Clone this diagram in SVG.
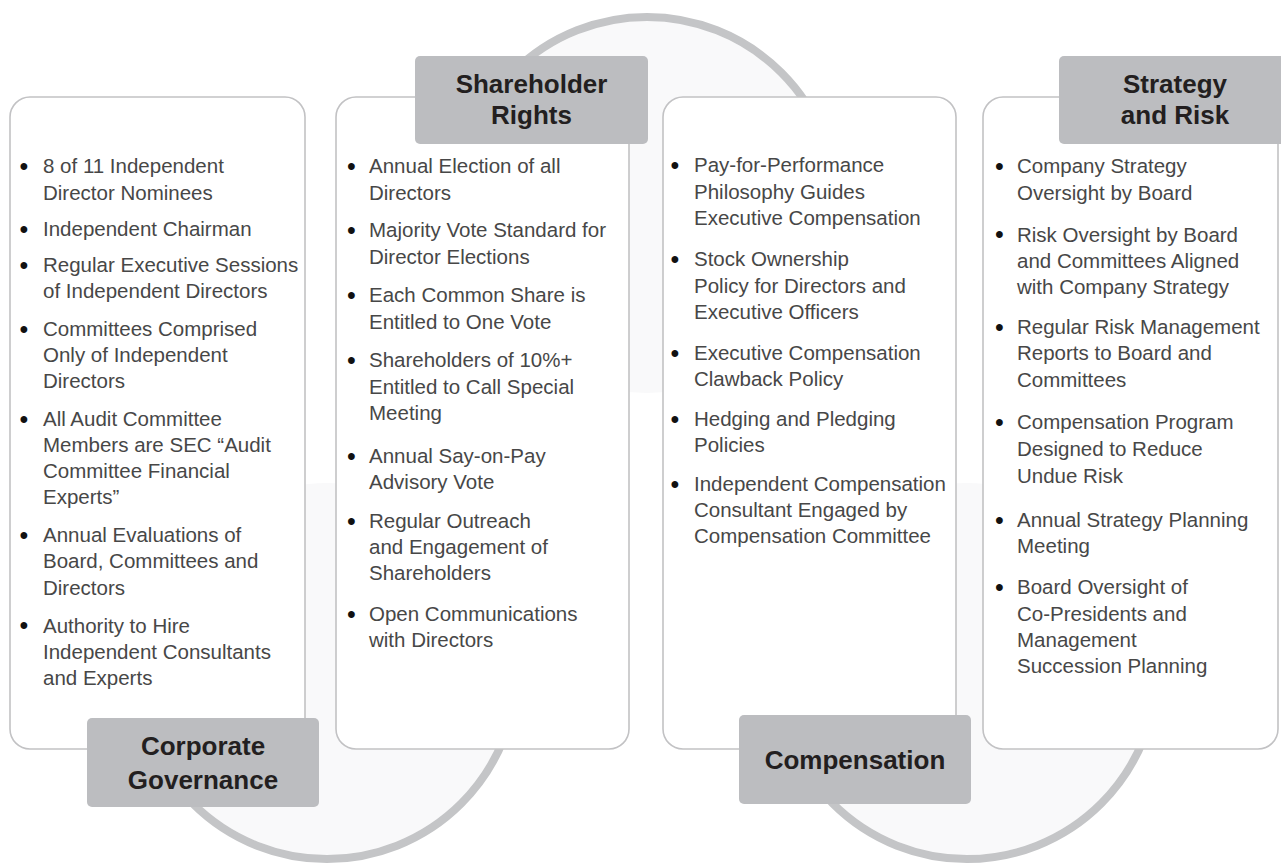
<svg xmlns="http://www.w3.org/2000/svg" width="1281" height="865" viewBox="0 0 1281 865">
<style>
.disc{fill:#f9f9fa}
.ring{fill:none;stroke:#c4c5c7;stroke-width:8}
.box{fill:#ffffff;stroke:#c2c2c4;stroke-width:1.6}
.tab{fill:#bcbdc0}
.tt{font-family:"Liberation Sans",Arial,Helvetica,sans-serif;font-size:26px;font-weight:bold;fill:#231f20;text-anchor:middle}
.it{font-family:"Liberation Sans",Arial,Helvetica,sans-serif;font-size:20.5px;fill:#474747}
.bu{font-family:"Liberation Sans",Arial,Helvetica,sans-serif;font-size:25px;fill:#111111;text-anchor:middle}
</style>
<rect width="1281" height="865" fill="#ffffff"/>
<g id="connectors">
<circle class="disc" cx="647" cy="207" r="186"/>
<circle class="disc" cx="327" cy="669" r="186"/>
<circle class="disc" cx="967" cy="669" r="186"/>
<path class="ring" d="M457,207 A190,190 0 0 1 837,207"/>
<path class="ring" d="M137,669 A190,190 0 0 0 517,669"/>
<path class="ring" d="M777,669 A190,190 0 0 0 1157,669"/>
</g>
<g id="corporate-governance">
<rect class="box" x="10" y="97" width="295" height="652" rx="20"/>
<g class="bu"><text x="24" y="174.5">•</text><text x="24" y="237.5">•</text><text x="24" y="273.5">•</text><text x="24" y="337.5">•</text><text x="24" y="427.5">•</text><text x="24" y="543.5">•</text><text x="24" y="634">•</text></g>
<g class="it">
<text x="43" y="173">8 of 11 Independent</text>
<text x="43" y="199.5">Director Nominees</text>
<text x="43" y="236">Independent Chairman</text>
<text x="43" y="272">Regular Executive Sessions</text>
<text x="43" y="298">of Independent Directors</text>
<text x="43" y="336">Committees Comprised</text>
<text x="43" y="362">Only of Independent</text>
<text x="43" y="388">Directors</text>
<text x="43" y="426">All Audit Committee</text>
<text x="43" y="452">Members are SEC “Audit</text>
<text x="43" y="478">Committee Financial</text>
<text x="43" y="504">Experts”</text>
<text x="43" y="542">Annual Evaluations of</text>
<text x="43" y="568">Board, Committees and</text>
<text x="43" y="594.5">Directors</text>
<text x="43" y="632.5">Authority to Hire</text>
<text x="43" y="659">Independent Consultants</text>
<text x="43" y="685">and Experts</text>
</g>
<rect class="tab" x="87" y="718" width="232" height="89" rx="5"/>
<text class="tt" x="203" y="755">Corporate</text>
<text class="tt" x="203" y="789">Governance</text>
</g>
<g id="shareholder-rights">
<rect class="box" x="336" y="97" width="293" height="652" rx="20"/>
<g class="bu"><text x="351.5" y="174.5">•</text><text x="351.5" y="238.5">•</text><text x="351.5" y="303.5">•</text><text x="351.5" y="368.5">•</text><text x="351.5" y="464.5">•</text><text x="351.5" y="529.5">•</text><text x="351.5" y="622.5">•</text></g>
<g class="it">
<text x="369" y="173">Annual Election of all</text>
<text x="369" y="199.5">Directors</text>
<text x="369" y="237">Majority Vote Standard for</text>
<text x="369" y="263.5">Director Elections</text>
<text x="369" y="302">Each Common Share is</text>
<text x="369" y="328.5">Entitled to One Vote</text>
<text x="369" y="367">Shareholders of 10%+</text>
<text x="369" y="393.5">Entitled to Call Special</text>
<text x="369" y="420">Meeting</text>
<text x="369" y="463">Annual Say-on-Pay</text>
<text x="369" y="489">Advisory Vote</text>
<text x="369" y="528">Regular Outreach</text>
<text x="369" y="554">and Engagement of</text>
<text x="369" y="580">Shareholders</text>
<text x="369" y="621">Open Communications</text>
<text x="369" y="647">with Directors</text>
</g>
<rect class="tab" x="415" y="56" width="233" height="88" rx="5"/>
<text class="tt" x="531.5" y="93">Shareholder</text>
<text class="tt" x="531.5" y="124">Rights</text>
</g>
<g id="compensation">
<rect class="box" x="663" y="97" width="293" height="652" rx="20"/>
<g class="bu"><text x="675" y="173.5">•</text><text x="675" y="267.5">•</text><text x="675" y="361.5">•</text><text x="675" y="427.5">•</text><text x="675" y="492.5">•</text></g>
<g class="it">
<text x="694" y="172">Pay-for-Performance</text>
<text x="694" y="198.5">Philosophy Guides</text>
<text x="694" y="225">Executive Compensation</text>
<text x="694" y="266">Stock Ownership</text>
<text x="694" y="292.5">Policy for Directors and</text>
<text x="694" y="319">Executive Officers</text>
<text x="694" y="360">Executive Compensation</text>
<text x="694" y="386">Clawback Policy</text>
<text x="694" y="426">Hedging and Pledging</text>
<text x="694" y="452">Policies</text>
<text x="694" y="491">Independent Compensation</text>
<text x="694" y="517">Consultant Engaged by</text>
<text x="694" y="543">Compensation Committee</text>
</g>
<rect class="tab" x="739" y="715" width="232" height="89" rx="5"/>
<text class="tt" x="855" y="769">Compensation</text>
</g>
<g id="strategy-and-risk">
<rect class="box" x="983" y="97" width="295" height="652" rx="20"/>
<g class="bu"><text x="999.5" y="174.5">•</text><text x="999.5" y="243">•</text><text x="999.5" y="335.5">•</text><text x="999.5" y="430.5">•</text><text x="999.5" y="528.5">•</text><text x="999.5" y="595.5">•</text></g>
<g class="it">
<text x="1017" y="173">Company Strategy</text>
<text x="1017" y="200">Oversight by Board</text>
<text x="1017" y="241.5">Risk Oversight by Board</text>
<text x="1017" y="268">and Committees Aligned</text>
<text x="1017" y="294">with Company Strategy</text>
<text x="1017" y="334">Regular Risk Management</text>
<text x="1017" y="360">Reports to Board and</text>
<text x="1017" y="386.5">Committees</text>
<text x="1017" y="429">Compensation Program</text>
<text x="1017" y="456">Designed to Reduce</text>
<text x="1017" y="482.5">Undue Risk</text>
<text x="1017" y="527">Annual Strategy Planning</text>
<text x="1017" y="553">Meeting</text>
<text x="1017" y="594">Board Oversight of</text>
<text x="1017" y="620.5">Co-Presidents and</text>
<text x="1017" y="646.5">Management</text>
<text x="1017" y="673">Succession Planning</text>
</g>
<rect class="tab" x="1059" y="56" width="232" height="88" rx="5"/>
<text class="tt" x="1175" y="93">Strategy</text>
<text class="tt" x="1175" y="124">and Risk</text>
</g>
</svg>
